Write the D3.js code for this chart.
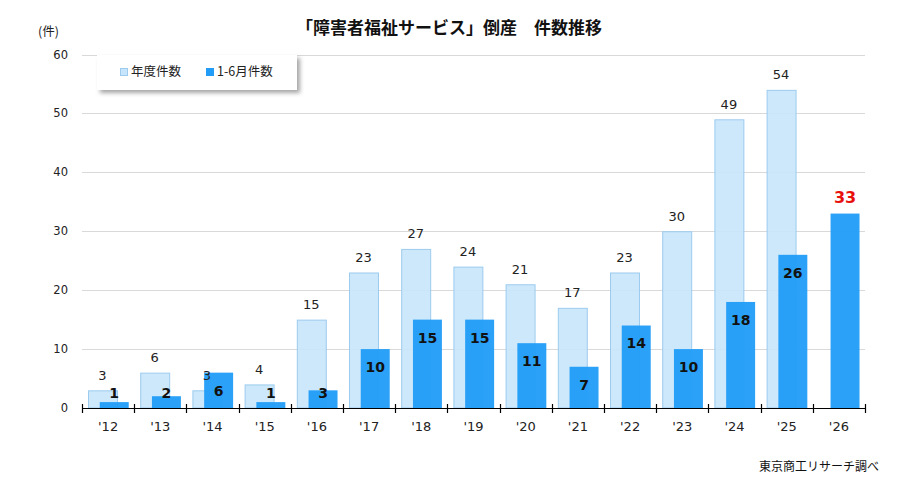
<!DOCTYPE html>
<html>
<head>
<meta charset="utf-8">
<script src="https://cdn.jsdelivr.net/npm/d3@7"></script>
<style>
  body { margin: 0; background: #fff; }
  svg { display: block; font-family: "DejaVu Sans", "Noto Sans CJK JP", sans-serif; }
  .jp { font-family: "Noto Sans CJK JP", sans-serif; }
</style>
</head>
<body>
<script>
// data
var years = ["'12", "'13", "'14", "'15", "'16", "'17", "'18", "'19", "'20", "'21", "'22", "'23", "'24", "'25", "'26"];
var annual = [3, 6, 3, 4, 15, 23, 27, 24, 21, 17, 23, 30, 49, 54, null];
var firstHalf = [1, 2, 6, 1, 3, 10, 15, 15, 11, 7, 14, 10, 18, 26, 33];
var yTicks = [0, 10, 20, 30, 40, 50, 60];
var seriesNames = ["年度件数", "1-6月件数"];

var width = 901, height = 481;
var lightFill = "#c8e6fb", lightStroke = "#9ccbee", darkFill = "#229df7";

var svg = d3.select("body").append("svg")
    .attr("width", width)
    .attr("height", height);

var defs = svg.append("defs");
var f = defs.append("filter").attr("id", "shadow")
    .attr("x", "-10%").attr("y", "-20%").attr("width", "130%").attr("height", "160%");
f.append("feDropShadow").attr("dx", 3).attr("dy", 3).attr("stdDeviation", 2)
    .attr("flood-color", "#000").attr("flood-opacity", 0.35);

var x = d3.scaleBand().domain(years).range([82, 865]).padding(0);
var y = d3.scaleLinear().domain([0, 60]).range([408, 54.5]);
var bw = x.bandwidth();

// grid
svg.append("g").selectAll("line").data(yTicks.filter(function (d) { return d > 0; }))
    .enter().append("line")
    .attr("x1", 82).attr("x2", 865)
    .attr("y1", function (d) { return Math.round(y(d)) + 0.5; })
    .attr("y2", function (d) { return Math.round(y(d)) + 0.5; })
    .attr("stroke", "#d9d9d9").attr("stroke-width", 1);

// y labels
svg.append("g").selectAll("text").data(yTicks).enter().append("text")
    .attr("x", 68).attr("y", function (d) { return y(d); })
    .attr("dy", "0.35em")
    .attr("text-anchor", "end")
    .attr("font-size", 11.5).attr("fill", "#222")
    .text(function (d) { return d; });

// light bars
svg.append("g").selectAll("rect").data(years.filter(function (d, i) { return annual[i] != null; }))
    .enter().append("rect")
    .attr("x", function (d) { return x(d) + bw * 0.115 + 0.5; })
    .attr("y", function (d) { return y(annual[years.indexOf(d)]) + 0.5; })
    .attr("width", bw * 0.555)
    .attr("height", function (d) { return y(0) - y(annual[years.indexOf(d)]) - 0.5; })
    .attr("fill", lightFill).attr("fill-opacity", 0.9)
    .attr("stroke", lightStroke).attr("stroke-width", 1);

// dark bars
svg.append("g").selectAll("rect").data(years).enter().append("rect")
    .attr("x", function (d) { return x(d) + bw * 0.34; })
    .attr("y", function (d, i) { return y(firstHalf[i]); })
    .attr("width", bw * 0.555)
    .attr("height", function (d, i) { return y(0) - y(firstHalf[i]); })
    .attr("fill", darkFill).attr("fill-opacity", 0.96);

// light labels
svg.append("g").selectAll("text").data(years.filter(function (d, i) { return annual[i] != null; }))
    .enter().append("text")
    .attr("x", function (d) { return x(d) + bw * 0.115 + bw * 0.555 / 2; })
    .attr("y", function (d) { return y(annual[years.indexOf(d)]) - 15; })
    .attr("dy", "0.35em")
    .attr("text-anchor", "middle")
    .attr("font-size", 13).attr("fill", "#222")
    .text(function (d) { return annual[years.indexOf(d)]; });

// dark labels
svg.append("g").selectAll("text").data(years).enter().append("text")
    .attr("x", function (d) { return x(d) + bw * 0.34 + bw * 0.555 / 2; })
    .attr("y", function (d, i) {
        if (annual[i] == null) return y(firstHalf[i]) - 16;
        return Math.min(y(firstHalf[i]) + 18, 393);
    })
    .attr("dy", "0.35em")
    .attr("text-anchor", "middle")
    .attr("font-weight", "bold")
    .attr("font-size", function (d, i) { return annual[i] == null ? 16 : 14; })
    .attr("fill", function (d, i) { return annual[i] == null ? "#e8100c" : "#111"; })
    .text(function (d, i) { return firstHalf[i]; });

// x axis
var ax = svg.append("g");
ax.append("line").attr("x1", 82).attr("x2", 865).attr("y1", 408.5).attr("y2", 408.5)
    .attr("stroke", "#000").attr("stroke-width", 1.2);
var tickXs = years.map(function (d) { return x(d); }).concat([865]);
ax.selectAll("line.tk").data(tickXs).enter().append("line").attr("class", "tk")
    .attr("x1", function (d) { return Math.round(d) + 0.5; })
    .attr("x2", function (d) { return Math.round(d) + 0.5; })
    .attr("y1", 404).attr("y2", 413)
    .attr("stroke", "#000").attr("stroke-width", 1.2);
ax.selectAll("text").data(years).enter().append("text")
    .attr("x", function (d) { return x(d) + bw / 2; })
    .attr("y", 426).attr("dy", "0.35em")
    .attr("text-anchor", "middle")
    .attr("font-size", 13).attr("fill", "#222")
    .text(function (d) { return d; });

// title
svg.append("text").attr("class", "jp")
    .attr("x", 449).attr("y", 28).attr("dy", "0.35em")
    .attr("text-anchor", "middle")
    .attr("font-size", 17).attr("font-weight", "bold").attr("fill", "#111")
    .text("「障害者福祉サービス」倒産　件数推移");

svg.append("text").attr("class", "jp")
    .attr("x", 38).attr("y", 32).attr("dy", "0.35em")
    .attr("font-size", 12.5).attr("fill", "#222")
    .text("(件)");

// legend
var lg = svg.append("g");
lg.append("rect").attr("x", 97).attr("y", 55).attr("width", 200).attr("height", 35)
    .attr("fill", "#fff").attr("filter", "url(#shadow)");
lg.append("rect").attr("x", 120.5).attr("y", 68.5).attr("width", 7).attr("height", 7)
    .attr("fill", lightFill).attr("stroke", lightStroke);
lg.append("text").attr("class", "jp").attr("x", 131).attr("y", 72).attr("dy", "0.35em")
    .attr("font-size", 12.5).attr("fill", "#222").text(seriesNames[0]);
lg.append("rect").attr("x", 206).attr("y", 68).attr("width", 8).attr("height", 8)
    .attr("fill", darkFill);
lg.append("text").attr("class", "jp").attr("x", 217).attr("y", 72).attr("dy", "0.35em")
    .attr("font-size", 12.5).attr("fill", "#222").text(seriesNames[1]);

// source
svg.append("text").attr("class", "jp")
    .attr("x", 879).attr("y", 467).attr("dy", "0.35em")
    .attr("text-anchor", "end")
    .attr("font-size", 12).attr("fill", "#111")
    .text("東京商工リサーチ調べ");
</script>
</body>
</html>
